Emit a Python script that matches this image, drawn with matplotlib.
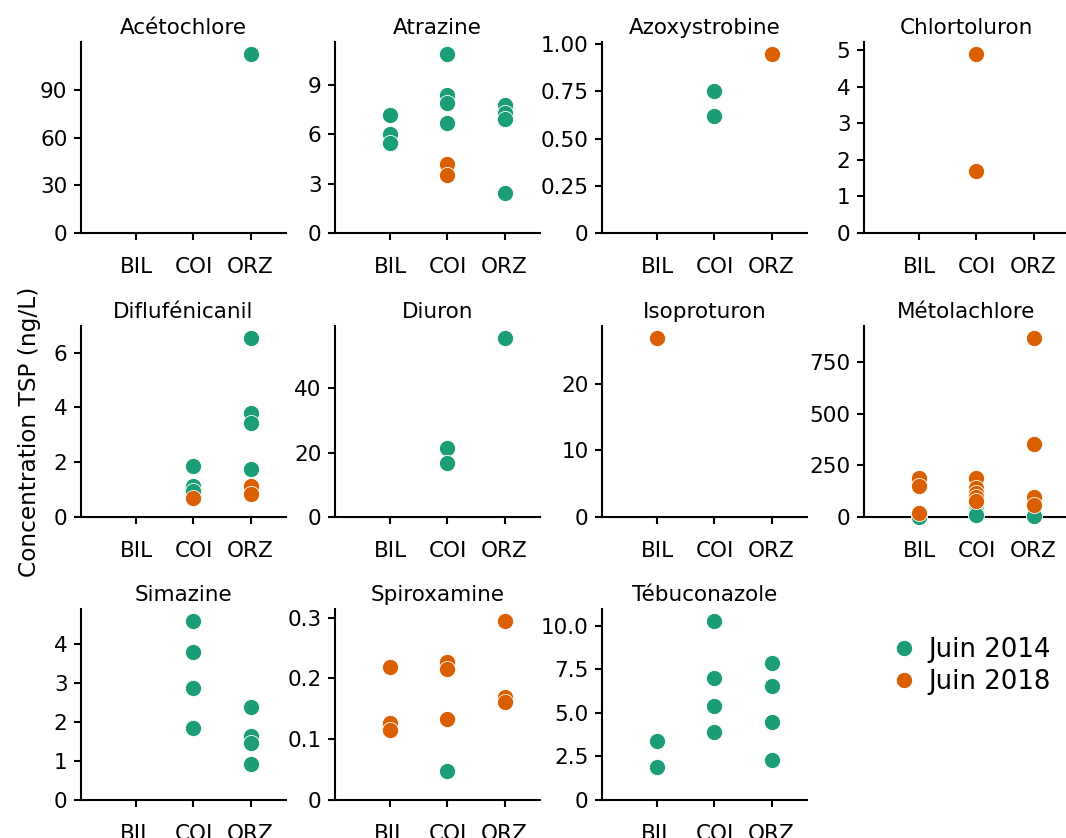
import matplotlib
matplotlib.use("Agg")
import matplotlib.pyplot as plt
from matplotlib.ticker import ScalarFormatter
from matplotlib.lines import Line2D

SITES = ["BIL", "COI", "ORZ"]
COMPOUNDS = ["Acétochlore", "Atrazine", "Azoxystrobine", "Chlortoluron",
             "Diflufénicanil", "Diuron", "Isoproturon", "Métolachlore",
             "Simazine", "Spiroxamine", "Tébuconazole"]
YEARS = ["Juin 2014", "Juin 2018"]
COLORS = {"Juin 2014": "#1b9e77", "Juin 2018": "#d95f02"}

# values per site: [BIL, COI, ORZ]
JUIN_2014 = {
    "Acétochlore":    [[], [], [112.8]],
    "Atrazine":       [[7.2, 6.0, 5.5], [10.9, 8.4, 7.9, 6.7], [7.8, 7.3, 6.9, 2.45]],
    "Azoxystrobine":  [[], [0.75, 0.62], []],
    "Chlortoluron":   [[], [], []],
    "Diflufénicanil": [[], [1.85, 1.12, 0.95], [6.55, 3.79, 3.45, 1.75]],
    "Diuron":         [[], [21.5, 16.8], [55.8]],
    "Isoproturon":    [[], [], []],
    "Métolachlore":   [[1], [55, 35, 20, 8], [3]],
    "Simazine":       [[], [4.59, 3.78, 2.86, 1.83], [2.38, 1.65, 1.45, 0.92]],
    "Spiroxamine":    [[], [0.048], []],
    "Tébuconazole":   [[3.37, 1.91], [10.29, 6.98, 5.39, 3.92], [7.84, 6.54, 4.49, 2.29]],
}
JUIN_2018 = {
    "Acétochlore":    [[], [], []],
    "Atrazine":       [[], [4.2, 3.55], []],
    "Azoxystrobine":  [[], [], [0.95]],
    "Chlortoluron":   [[], [4.9, 1.7], []],
    "Diflufénicanil": [[], [0.7], [1.15, 0.84]],
    "Diuron":         [[], [], []],
    "Isoproturon":    [[26.9], [], []],
    "Métolachlore":   [[190, 150, 19], [190, 140, 115, 95, 78], [870, 355, 95, 57]],
    "Simazine":       [[], [], []],
    "Spiroxamine":    [[0.219, 0.127, 0.115], [0.227, 0.215, 0.133], [0.295, 0.170, 0.162]],
    "Tébuconazole":   [[], [], []],
}
YTICKS = {
    "Acétochlore":    [0, 30, 60, 90],
    "Atrazine":       [0, 3, 6, 9],
    "Azoxystrobine":  [0, 0.25, 0.5, 0.75, 1.0],
    "Chlortoluron":   [0, 1, 2, 3, 4, 5],
    "Diflufénicanil": [0, 2, 4, 6],
    "Diuron":         [0, 20, 40],
    "Isoproturon":    [0, 10, 20],
    "Métolachlore":   [0, 250, 500, 750],
    "Simazine":       [0, 1, 2, 3, 4],
    "Spiroxamine":    [0, 0.1, 0.2, 0.3],
    "Tébuconazole":   [0, 2.5, 5.0, 7.5, 10.0],
}


class ZeroFormatter(ScalarFormatter):
    def __call__(self, x, pos=None):
        if x == 0:
            return "0"
        return super().__call__(x, pos)


W, H = 1066, 838
plt.rcParams["font.family"] = "DejaVu Sans"
fig = plt.figure(figsize=(W / 150, H / 150), dpi=150)

col_left = [81, 335, 602, 864]
row_bottom = [233, 517, 800]
ax_w, ax_h = 205, 191

for k, name in enumerate(COMPOUNDS):
    r, c = divmod(k, 4)
    ax = fig.add_axes([col_left[c] / W, 1 - row_bottom[r] / H, ax_w / W, ax_h / H])
    ymax = 0
    for year, data in zip(YEARS, (JUIN_2014, JUIN_2018)):
        for i, vals in enumerate(data[name]):
            if not vals:
                continue
            ax.scatter([i] * len(vals), vals, s=60, color=COLORS[year],
                       edgecolor="white", linewidth=0.4, zorder=3, clip_on=False)
            ymax = max(ymax, max(vals))
    ax.set_xlim(-0.97, 2.62)
    ax.set_ylim(0, ymax * 1.065)
    ax.set_xticks(range(len(SITES)))
    ax.set_xticklabels(SITES)
    ax.set_yticks(YTICKS[name])
    ax.yaxis.set_major_formatter(ZeroFormatter())
    ax.tick_params(labelsize=10.3, length=3.5, width=1.0, pad=3)
    ax.tick_params(axis="x", pad=8)
    for side in ("top", "right"):
        ax.spines[side].set_visible(False)
    for side in ("left", "bottom"):
        ax.spines[side].set_linewidth(1.0)
    ax.set_title(name, fontsize=10.3, pad=4)

fig.text(30 / W, 1 - 432 / H, "Concentration TSP (ng/L)", rotation=90,
         ha="center", va="center", fontsize=11.2)

handles = [Line2D([], [], marker="o", linestyle="", markersize=7.8,
                  markerfacecolor=COLORS[y], markeredgecolor="white",
                  markeredgewidth=0.4) for y in YEARS]
fig.legend(handles, YEARS, loc="center left", frameon=False, fontsize=12.5,
           bbox_to_anchor=(868 / W, 1 - 666 / H), handletextpad=0.4,
           labelspacing=0.25, handlelength=1.0)

fig.savefig("out.png", dpi=150)
